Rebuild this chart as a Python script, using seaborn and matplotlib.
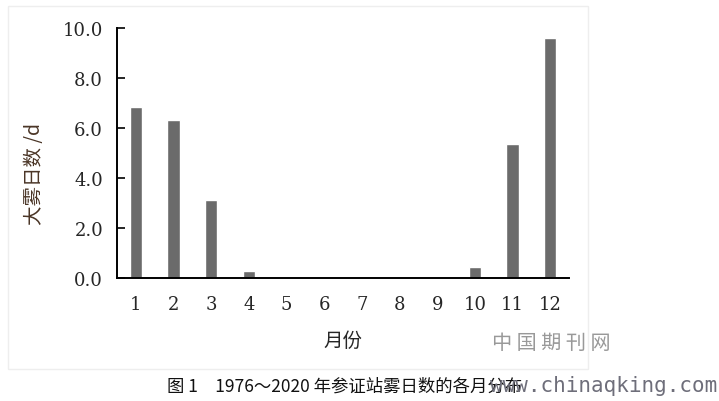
import matplotlib
matplotlib.use("Agg")
import matplotlib.pyplot as plt
import seaborn as sns
import numpy as np
from matplotlib.patches import Rectangle

# monthly fog days
months = ["1", "2", "3", "4", "5", "6", "7", "8", "9", "10", "11", "12"]
fog_days = [6.84, 6.32, 3.12, 0.29, 0.06, 0.0, 0.0, 0.0, 0.0, 0.45, 5.36, 9.59]
y_ticks = [0, 2, 4, 6, 8, 10]
y_tick_labels = ["0.0", "2.0", "4.0", "6.0", "8.0", "10.0"]

sns.set_style("white")
plt.rcParams["font.family"] = ["Noto Sans CJK SC", "DejaVu Sans"]

fig = plt.figure(figsize=(7.19, 4.02), dpi=100)
ax = fig.add_axes([0.1627, 0.3052, 0.6287, 0.6234])

sns.barplot(x=months, y=fog_days, color="#6b6b6b", saturation=1, width=0.33, ax=ax)

ax.set_xlim(-0.5, len(months) - 0.5)
ax.set_ylim(0, 10)
ax.set_yticks(y_ticks)
ax.set_yticklabels(y_tick_labels, fontfamily="DejaVu Serif", fontsize=13)
ax.set_xticks(range(len(months)))
ax.set_xticklabels(months, fontfamily="DejaVu Serif", fontsize=13)
ax.set_xticks(np.arange(-0.5, len(months)), minor=True)

ax.tick_params(axis="x", which="major", length=0, pad=12)
ax.tick_params(axis="x", which="minor", direction="in", length=6, width=1.2, color="black")
ax.tick_params(axis="y", direction="in", length=5.5, width=1.2, color="black", pad=10, left=True)

for side in ["top", "right"]:
    ax.spines[side].set_visible(False)
for side in ["left", "bottom"]:
    ax.spines[side].set_color("black")
    ax.spines[side].set_linewidth(1.4)

ax.set_xlabel("月份", fontsize=14, labelpad=12)
ax.set_ylabel("大雾日数 /d", fontsize=14, color="#4a3526")
ax.yaxis.set_label_coords(-0.16, 0.42)

# light frame round the chart
fig.patches.append(Rectangle((8 / 719, 1 - 370 / 402), 580 / 719, 363 / 402,
                             transform=fig.transFigure, fill=False,
                             edgecolor="#eeeeee", linewidth=1))

fig.text(167 / 719, 1 - 392 / 402, "图 1　1976～2020 年参证站雾日数的各月分布",
         fontsize=12.5, color="#111111", va="baseline")
# watermarks, drawn over the caption as in the source image
fig.text(492 / 719, 1 - 343 / 402, "中 国 期 刊 网", fontsize=14.5, color="#999999",
         va="center", fontweight="light")
fig.text(490 / 719, 1 - 392 / 402, "www.chinaqking.com", fontsize=15,
         fontfamily="DejaVu Sans Mono", color="#6e6e7a", va="baseline")

fig.savefig("out.png", dpi=100)
